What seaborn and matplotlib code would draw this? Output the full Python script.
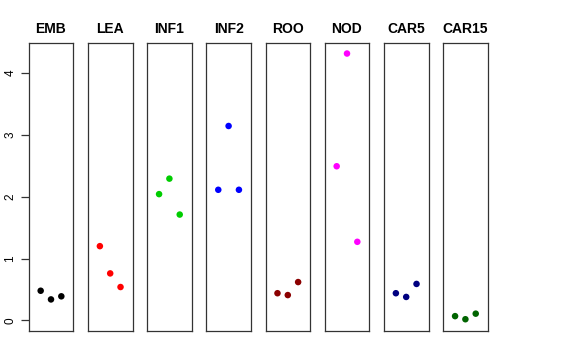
import pandas as pd
import matplotlib
matplotlib.use("Agg")
import matplotlib.pyplot as plt
import seaborn as sns

# Values, three replicates per tissue
tissues = ["EMB", "LEA", "INF1", "INF2", "ROO", "NOD", "CAR5", "CAR15"]
rep1 = [0.48, 1.20, 2.04, 2.11, 0.44, 2.49, 0.44, 0.07]
rep2 = [0.34, 0.76, 2.29, 3.14, 0.41, 4.31, 0.38, 0.02]
rep3 = [0.39, 0.54, 1.71, 2.11, 0.62, 1.27, 0.59, 0.11]
colors = ["black", "red", "#00CD00", "blue", "#8B0000", "magenta", "#000080", "#006400"]

rows = []
for t, a, b, c in zip(tissues, rep1, rep2, rep3):
    for i, v in enumerate([a, b, c], start=1):
        rows.append({"tissue": t, "rep": i, "value": v})
df = pd.DataFrame(rows)

sns.set_style("white")
plt.rcParams["font.family"] = ["Liberation Sans", "DejaVu Sans"]
plt.rcParams["text.color"] = "black"
plt.rcParams["ytick.color"] = "black"

fig = plt.figure(figsize=(5.76, 3.6), dpi=100)
W, H = 576, 360
left0, step, pw = 28.7, 59.2, 44.6
top, bottom = 43, 331

for k, (t, col) in enumerate(zip(tissues, colors)):
    x0 = left0 + k * step
    ax = fig.add_axes([x0 / W, (H - bottom) / H, pw / W, (bottom - top) / H])
    sub = df[df["tissue"] == t]
    sns.scatterplot(data=sub, x="rep", y="value", color=col, s=22,
                    edgecolor="none", ax=ax, legend=False)
    ax.set_xlim(-0.16, 4.16)
    ax.set_ylim(-0.17, 4.48)
    ax.set_xticks([])
    ax.set_xlabel("")
    ax.set_ylabel("")
    ax.set_title(t, fontsize=10, fontweight="bold", pad=7, color="black")
    for s in ax.spines.values():
        s.set_color("#333333")
        s.set_linewidth(0.9)
    if k == 0:
        ax.set_yticks([0, 1, 2, 3, 4])
        ax.tick_params(axis="y", left=True, length=6, width=0.9, color="#333333",
                       labelcolor="black", labelsize=8.5, pad=3)
        for lab in ax.get_yticklabels():
            lab.set_rotation(90)
            lab.set_va("center")
    else:
        ax.set_yticks([])

fig.savefig("out.png", dpi=100)
